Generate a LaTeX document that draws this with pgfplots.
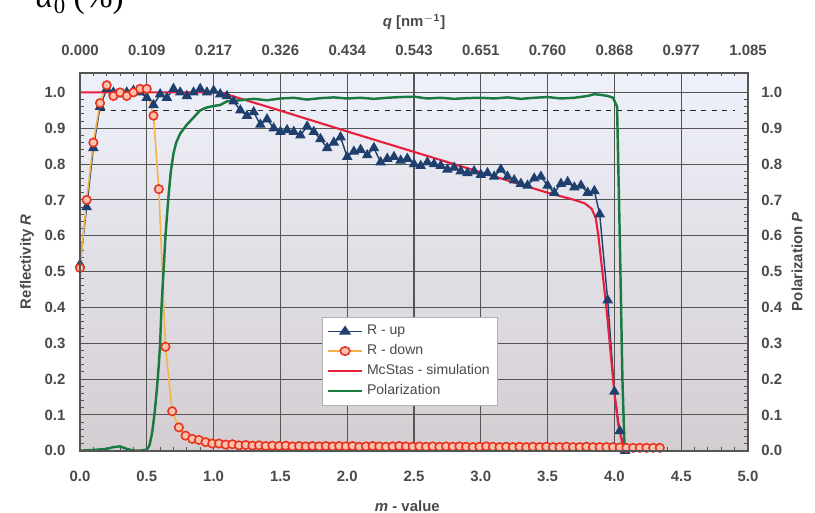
\documentclass[border=0pt]{standalone}
\usepackage{fontspec}
\setmainfont{Liberation Sans}
\newfontfamily\serifT{Liberation Serif}
\usepackage{pgfplots}
\pgfplotsset{compat=1.18}

\definecolor{rup}{HTML}{1F3F6E}
\definecolor{rdownline}{HTML}{F2B44A}
\definecolor{rdown}{HTML}{E8321E}
\definecolor{rdownfill}{HTML}{F9C2AE}
\definecolor{mcstas}{HTML}{E8203C}
\definecolor{pol}{HTML}{1A7A40}
\definecolor{lbl}{HTML}{4A4A4A}
\definecolor{gridc}{HTML}{555555}
\definecolor{bgtop}{RGB}{238,241,250}
\definecolor{bgbot}{RGB}{212,205,210}

\begin{document}
\begin{tikzpicture}
\pgfplotsset{
  myaxis/.style={
    scale only axis, width=13.36cm, height=7.56cm,
    xmin=0, xmax=5, ymin=0, ymax=1.055,
    xtick={0,0.5,1,1.5,2,2.5,3,3.5,4,4.5,5},
    ytick={0,0.1,0.2,0.3,0.4,0.5,0.6,0.7,0.8,0.9,1.0},
    axis line style={gridc, line width=1pt},
    tick label style={font=\fontsize{8.5}{10}\selectfont\bfseries, text=lbl},
    label style={font=\fontsize{8.5}{10}\selectfont\bfseries, text=lbl},
  }
}
\begin{axis}[myaxis,
  axis background/.style={shade, top color=bgtop, bottom color=bgbot},
  grid=major, major grid style={gridc, line width=0.6pt},
  xticklabels={0.0,0.5,1.0,1.5,2.0,2.5,3.0,3.5,4.0,4.5,5.0},
  yticklabels={0.0,0.1,0.2,0.3,0.4,0.5,0.6,0.7,0.8,0.9,1.0},
  xticklabel pos=left, yticklabel pos=left,
  minor x tick num=4, minor y tick num=4,
  tick style={gridc, line width=0.5pt},
  major tick length=3pt, minor tick length=2pt,
  xticklabel style={anchor=center, yshift=-0.52cm},
  yticklabel style={anchor=center, xshift=-0.5cm},
  xlabel={\textit{m} - value},
  xlabel style={at={(axis description cs:0.49,-0.1463)}, anchor=center},
  ylabel={Reflectivity \textit{R}},
  ylabel style={at={(axis description cs:-0.0793,0.5)}, anchor=center},
  legend style={at={(axis cs:1.81,0.373)}, anchor=north west,
    font=\fontsize{8}{9.5}\selectfont, text=lbl, draw=gray!60, fill=white, inner sep=2.5pt},
  legend image post style={xscale=1.15},
  legend cell align=left,
]
\addplot[black!85, dashed, line width=0.7pt, forget plot] coordinates {(0.15,0.95) (4.9,0.95)};

\addplot[rup, line width=0.8pt, mark=triangle*, mark size=2.7pt, mark options={fill=rup, draw=rup}] coordinates {
(0.00,0.52)(0.05,0.68)(0.10,0.845)(0.15,0.96)(0.20,1.01)(0.25,1.00)(0.30,0.995)(0.35,1.00)(0.40,1.005)(0.45,1.00)
(0.50,0.985)(0.55,0.965)(0.60,0.995)(0.65,0.985)(0.70,1.01)(0.75,1.00)(0.80,0.99)(0.85,1.00)(0.90,1.01)(0.95,1.00)
(1.00,1.005)(1.05,0.995)(1.10,0.99)(1.15,0.975)(1.20,0.95)(1.25,0.935)(1.30,0.945)(1.35,0.91)(1.40,0.925)(1.45,0.90)
(1.50,0.89)(1.55,0.895)(1.60,0.89)(1.65,0.88)(1.70,0.905)(1.75,0.89)(1.80,0.87)(1.85,0.845)(1.90,0.86)(1.95,0.875)
(2.00,0.82)(2.05,0.835)(2.10,0.84)(2.15,0.825)(2.20,0.845)(2.25,0.805)(2.30,0.815)(2.35,0.82)(2.40,0.81)(2.45,0.815)
(2.50,0.80)(2.55,0.795)(2.60,0.805)(2.65,0.80)(2.70,0.795)(2.75,0.785)(2.80,0.79)(2.85,0.78)(2.90,0.775)(2.95,0.78)
(3.00,0.77)(3.05,0.775)(3.10,0.765)(3.15,0.785)(3.20,0.765)(3.25,0.755)(3.30,0.745)(3.35,0.74)(3.40,0.76)(3.45,0.765)
(3.50,0.74)(3.55,0.72)(3.60,0.745)(3.65,0.75)(3.70,0.735)(3.75,0.74)(3.80,0.72)(3.85,0.725)(3.89,0.66)(3.95,0.42)
(4.00,0.165)(4.04,0.055)(4.08,0.0)};
\addlegendentry{R - up}

\addplot[rdownline, line width=0.9pt, mark=*, mark size=2.4pt, mark options={fill=rdownfill, draw=rdown, line width=0.9pt}] coordinates {
(0.00,0.51)(0.05,0.70)(0.10,0.86)(0.15,0.97)(0.20,1.02)(0.25,0.99)(0.30,1.00)(0.35,0.99)(0.40,1.00)(0.45,1.01)
(0.50,1.01)(0.55,0.935)(0.59,0.73)(0.64,0.29)(0.69,0.11)(0.74,0.065)(0.79,0.042)(0.84,0.033)(0.89,0.03)(0.94,0.024)
(0.99,0.02)(1.04,0.02)(1.09,0.017)(1.14,0.018)(1.19,0.015)(1.24,0.016)(1.29,0.014)(1.34,0.015)(1.39,0.013)(1.44,0.014)
(1.49,0.013)(1.54,0.014)(1.59,0.012)(1.64,0.013)(1.69,0.012)(1.74,0.013)(1.79,0.012)(1.84,0.013)(1.89,0.012)(1.94,0.013)
(1.99,0.012)(2.04,0.013)(2.09,0.011)(2.14,0.012)(2.19,0.013)(2.24,0.012)(2.29,0.011)(2.34,0.012)(2.39,0.013)(2.44,0.012)
(2.49,0.011)(2.54,0.012)(2.59,0.011)(2.64,0.012)(2.69,0.011)(2.74,0.012)(2.79,0.011)(2.84,0.012)(2.89,0.011)(2.94,0.010)
(2.99,0.011)(3.04,0.012)(3.09,0.011)(3.14,0.010)(3.19,0.011)(3.24,0.010)(3.29,0.011)(3.34,0.010)(3.39,0.011)(3.44,0.010)
(3.49,0.011)(3.54,0.010)(3.59,0.010)(3.64,0.011)(3.69,0.010)(3.74,0.010)(3.79,0.011)(3.84,0.010)(3.89,0.010)(3.94,0.010)
(3.99,0.010)(4.04,0.009)(4.09,0.008)(4.14,0.008)(4.19,0.008)(4.24,0.008)(4.29,0.008)(4.34,0.008)};
\addlegendentry{R - down}

\addplot[mcstas, line width=1.2pt] coordinates {
(0,1.0)(1.05,1.0)(1.5,0.949)(2.0,0.891)(2.5,0.834)(3.0,0.777)(3.5,0.72)(3.7,0.70)(3.78,0.69)(3.83,0.675)
(3.86,0.65)(3.88,0.60)(3.91,0.50)(3.94,0.40)(3.97,0.28)(4.0,0.16)(4.03,0.07)(4.06,0.02)(4.09,0.0)};
\addlegendentry{McStas - simulation}

\addplot[pol, line width=1.4pt] coordinates {
(0.00,0.0)(0.1,0.002)(0.2,0.005)(0.25,0.01)(0.3,0.012)(0.35,0.005)(0.4,0.0)(0.45,0.0)(0.5,0.003)(0.52,0.015)
(0.54,0.05)(0.56,0.11)(0.575,0.17)(0.59,0.24)(0.60,0.30)(0.61,0.40)(0.625,0.50)(0.64,0.60)(0.66,0.70)(0.68,0.78)
(0.70,0.83)(0.72,0.86)(0.75,0.885)(0.8,0.91)(0.85,0.93)(0.9,0.95)(0.95,0.958)(1.0,0.962)(1.05,0.965)(1.1,0.975)
(1.2,0.978)(1.3,0.982)(1.4,0.978)(1.5,0.983)(1.6,0.985)(1.7,0.98)(1.8,0.984)(1.9,0.986)(2.0,0.983)(2.1,0.985)
(2.2,0.982)(2.3,0.985)(2.4,0.987)(2.5,0.988)(2.6,0.983)(2.7,0.985)(2.8,0.982)(2.9,0.984)(3.0,0.985)(3.1,0.983)
(3.2,0.986)(3.3,0.982)(3.4,0.985)(3.5,0.987)(3.6,0.983)(3.7,0.985)(3.8,0.99)(3.85,0.995)(3.9,0.993)(3.95,0.99)
(3.99,0.985)(4.02,0.96)(4.04,0.6)(4.06,0.2)(4.075,0.02)(4.09,0.0)(4.35,0.0)};
\addlegendentry{Polarization}
\end{axis}

\begin{axis}[myaxis,
  xticklabel pos=right, yticklabel pos=right,
  xticklabels={0.000,0.109,0.217,0.326,0.434,0.543,0.651,0.760,0.868,0.977,1.085},
  yticklabels={0.0,0.1,0.2,0.3,0.4,0.5,0.6,0.7,0.8,0.9,1.0},
  major tick length=0pt,
  xticklabel style={anchor=center, yshift=0.45cm},
  yticklabel style={anchor=center, xshift=0.474cm},
  xlabel={\textit{q} [nm$^{\mathbf{-1}}$]},
  xlabel style={at={(axis description cs:0.5,1.135)}, anchor=center},
  ylabel={Polarization \textit{P}},
  ylabel style={at={(axis description cs:1.0734,0.5)}, anchor=center},
]
\end{axis}

\node[anchor=base east, font=\serifT\fontsize{19}{19}\selectfont] at (1.0,8.86) {\textit{α}\raisebox{-0.35ex}{\fontsize{13}{13}\selectfont 0} (\%)};

\pgfresetboundingbox
\path[use as bounding box] (-1.6,-1.246) rectangle (14.7,9.014);
\end{tikzpicture}
\end{document}
